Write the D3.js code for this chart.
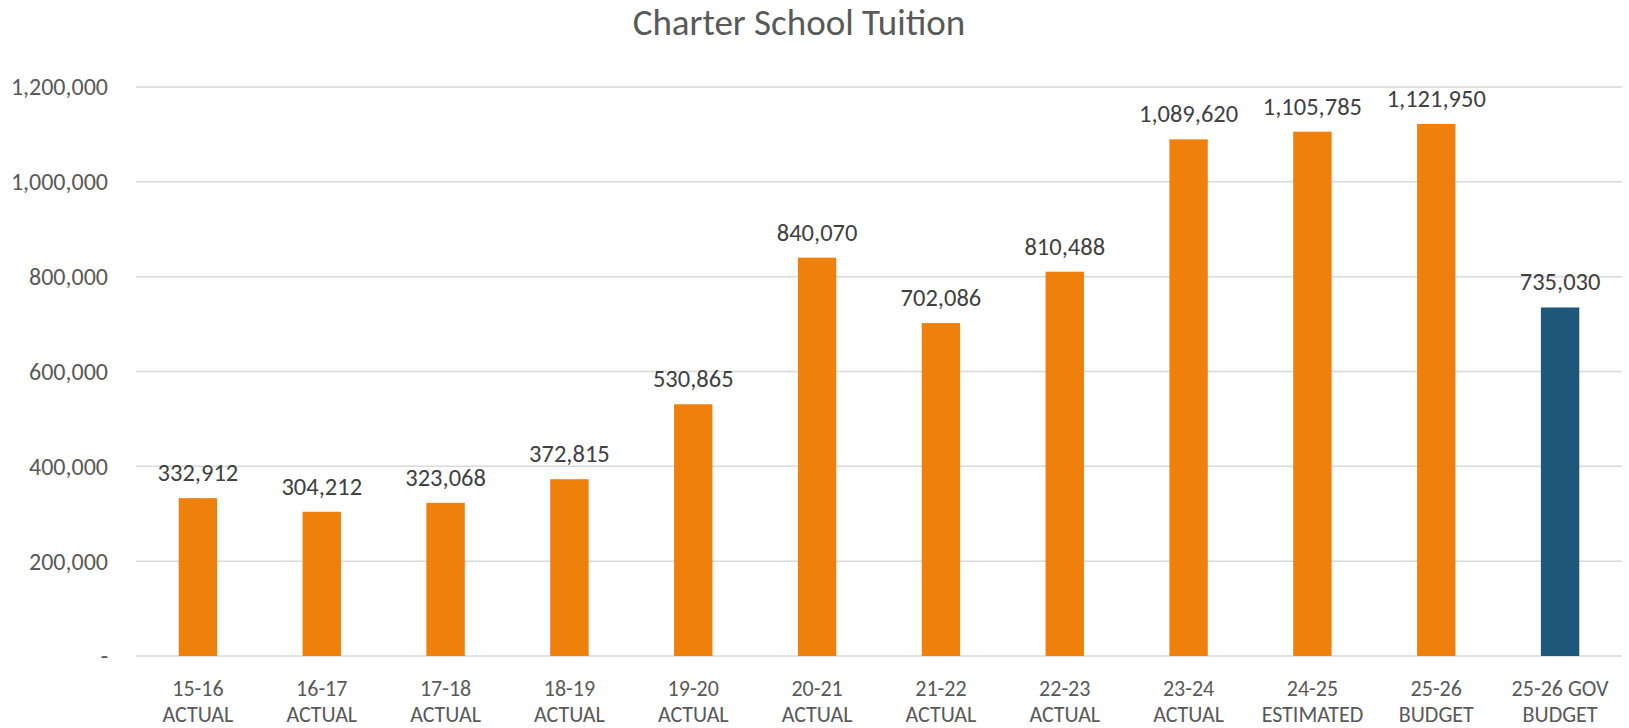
<!DOCTYPE html>
<html>
<head>
<meta charset="utf-8">
<script src="https://cdn.jsdelivr.net/npm/d3@7"></script>
<style>
  body { margin: 0; background: #fff; }
  text { font-family: Carlito, Calibri, Lato, sans-serif; fill: #595959; }
</style>
</head>
<body>
<svg id="chart" width="1629" height="728"></svg>
<script>
const years = ["15-16", "16-17", "17-18", "18-19", "19-20", "20-21", "21-22", "22-23", "23-24", "24-25", "25-26", "25-26 GOV"];
const kinds = ["ACTUAL", "ACTUAL", "ACTUAL", "ACTUAL", "ACTUAL", "ACTUAL", "ACTUAL", "ACTUAL", "ACTUAL", "ESTIMATED", "BUDGET", "BUDGET"];
const tuition = [332912, 304212, 323068, 372815, 530865, 840070, 702086, 810488, 1089620, 1105785, 1121950, 735030];
const yTicks = [0, 200000, 400000, 600000, 800000, 1000000, 1200000];

const svg = d3.select("#chart");
const margin = {top: 87, right: 7, bottom: 72, left: 136};
const width = +svg.attr("width") - margin.left - margin.right,
      height = +svg.attr("height") - margin.top - margin.bottom;

const data = years.map((y, i) => ({key: i, year: y, kind: kinds[i], value: tuition[i]}));

const x = d3.scaleBand().domain(data.map(d => d.key)).range([0, width]).paddingInner(0.69).paddingOuter(0.345);
const yScale = d3.scaleLinear().domain([0, 1200000]).range([height, 0]);
const fmt = d3.format(",");

svg.append("text")
  .attr("x", 799)
  .attr("y", 35)
  .attr("text-anchor", "middle")
  .style("font-size", "37px")
  .text("Charter School Tuition");

const g = svg.append("g").attr("transform", `translate(${margin.left},${margin.top})`);

// gridlines
g.selectAll("line.grid")
  .data(yTicks)
  .join("line")
  .attr("class", "grid")
  .attr("x1", 0).attr("x2", width)
  .attr("y1", d => yScale(d)).attr("y2", d => yScale(d))
  .attr("stroke", "#d9d9d9")
  .attr("stroke-width", 1.5);

// y labels
g.selectAll("text.ytick")
  .data(yTicks)
  .join("text")
  .attr("class", "ytick")
  .attr("x", -28)
  .attr("y", d => yScale(d))
  .attr("dy", "0.35em")
  .attr("text-anchor", "end")
  .style("font-size", "24px")
  .text(d => d === 0 ? "-" : fmt(d));

// bars
g.selectAll("rect")
  .data(data)
  .join("rect")
  .attr("x", d => x(d.key))
  .attr("y", d => yScale(d.value))
  .attr("width", x.bandwidth())
  .attr("height", d => height - yScale(d.value))
  .attr("fill", (d, i) => i === data.length - 1 ? "#1f577a" : "#ef800c");

// value labels
g.selectAll("text.val")
  .data(data)
  .join("text")
  .attr("class", "val")
  .attr("x", d => x(d.key) + x.bandwidth() / 2)
  .attr("y", d => yScale(d.value) - 17)
  .attr("text-anchor", "middle")
  .style("font-size", "24.5px")
  .style("fill", "#404040")
  .text(d => fmt(d.value));

// x labels
const xl = g.selectAll("text.xl")
  .data(data)
  .join("text")
  .attr("class", "xl")
  .attr("text-anchor", "middle")
  .attr("transform", d => `translate(${x(d.key) + x.bandwidth() / 2},${height})`)
  .style("font-size", "22px");
xl.append("tspan").attr("x", 0).attr("y", 40).text(d => d.year);
xl.append("tspan").attr("x", 0).attr("y", 66).text(d => d.kind);
</script>
</body>
</html>
